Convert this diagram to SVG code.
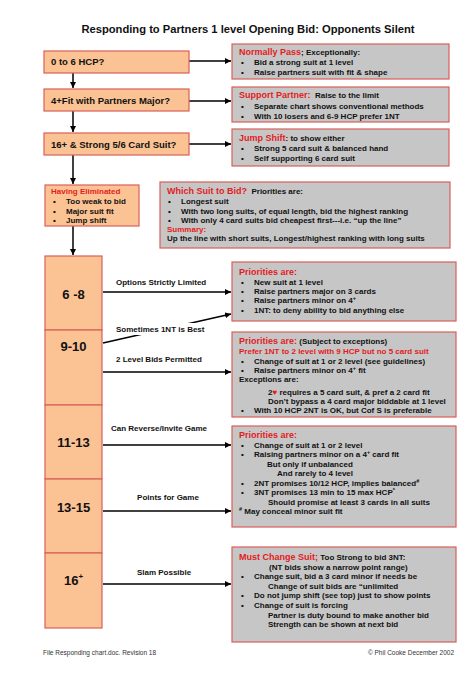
<svg xmlns="http://www.w3.org/2000/svg" width="474" height="674" viewBox="0 0 474 674">
<style>
text{font-family:"Liberation Sans",Arial,"DejaVu Sans",sans-serif;font-weight:bold;font-size:8px;fill:#111}
.r{fill:#e31b23}
.h{font-size:9px}
.sup{font-size:5.5px}
.big{font-size:13px;text-anchor:middle}
.q{font-size:9.5px}
.peach{fill:#fbc293;stroke:#d9605a;stroke-width:1.2}
.grey{fill:#c6c6c6;stroke:#d9605a;stroke-width:1.2}
.ln{stroke:#000;stroke-width:1.5;fill:none;marker-end:url(#ah)}
.foot{font-weight:normal;font-size:6.5px;fill:#333}
</style>
<defs>
<marker id="ah" markerUnits="userSpaceOnUse" markerWidth="7" markerHeight="6" refX="6" refY="3" orient="auto">
<path d="M0,0 L6,3 L0,6 z" fill="#000"/>
</marker>
</defs>
<rect width="474" height="674" fill="#fff"/>
<text x="248" y="33" text-anchor="middle" style="font-size:11.2px">Responding to Partners 1 level Opening Bid: Opponents Silent</text>

<g id="connectors">
<line class="ln" x1="189" y1="61" x2="231" y2="61"/>
<line class="ln" x1="189" y1="101" x2="231" y2="101"/>
<line class="ln" x1="189" y1="144" x2="231" y2="144"/>
<line class="ln" x1="73" y1="73" x2="73" y2="88"/>
<line class="ln" x1="73" y1="111" x2="73" y2="132"/>
<line class="ln" x1="73" y1="155" x2="73" y2="184"/>
<line class="ln" x1="73" y1="226" x2="73" y2="255"/>
<line class="ln" x1="103" y1="292" x2="231" y2="292"/>
<line class="ln" x1="103" y1="343" x2="231" y2="314"/>
<line class="ln" x1="103" y1="372" x2="231" y2="372"/>
<line class="ln" x1="103" y1="445" x2="231" y2="445"/>
<line class="ln" x1="103" y1="511" x2="231" y2="511"/>
<line class="ln" x1="103" y1="584" x2="231" y2="584"/>
<text x="116" y="285">Options Strictly Limited</text>
<rect x="114" y="323" width="84" height="12" fill="#fff"/>
<text x="116" y="332">Sometimes 1NT is Best</text>
<text x="116" y="362">2 Level Bids Permitted</text>
<text x="111" y="431">Can Reverse/Invite Game</text>
<text x="168" y="500" text-anchor="middle">Points for Game</text>
<text x="164" y="575" text-anchor="middle">Slam Possible</text>
</g>

<g id="q1"><rect class="peach" x="44" y="51" width="145" height="22"/><text class="q" x="51" y="65">0 to 6 HCP?</text></g>
<g id="q2"><rect class="peach" x="44" y="89" width="145" height="22"/><text class="q" x="51" y="103.5">4+Fit with Partners Major?</text></g>
<g id="q3"><rect class="peach" x="44" y="133" width="145" height="22"/><text class="q" x="51" y="147.5">16+ &amp; Strong 5/6 Card Suit?</text></g>

<g id="eliminated"><rect class="peach" x="45" y="185" width="94" height="41"/>
<text class="r" x="51" y="194">Having Eliminated</text>
<text x="53" y="204">•</text><text x="66" y="204">Too weak to bid</text>
<text x="53" y="213.5">•</text><text x="66" y="213.5">Major suit fit</text>
<text x="53" y="223">•</text><text x="66" y="223">Jump shift</text>
</g>

<g id="r68"><rect class="peach" x="45" y="256" width="57" height="74"/><text class="big" x="73.5" y="299">6 -8</text></g>
<g id="r910"><rect class="peach" x="45" y="330" width="57" height="75"/><text class="big" x="73.5" y="351">9-10</text></g>
<g id="r1113"><rect class="peach" x="45" y="405" width="57" height="74"/><text class="big" x="73.5" y="447">11-13</text></g>
<g id="r1315"><rect class="peach" x="45" y="479" width="57" height="74"/><text class="big" x="73.5" y="512">13-15</text></g>
<g id="r16"><rect class="peach" x="45" y="553" width="57" height="75"/><text class="big" x="73.5" y="585">16<tspan class="sup" style="font-size:8px" dy="-6">+</tspan></text></g>

<g id="pass"><rect class="grey" x="232" y="44" width="217" height="35"/>
<text x="239" y="55"><tspan class="r h">Normally Pass</tspan>; Exceptionally:</text>
<text x="241" y="65">•</text><text x="254" y="65">Bid a strong suit at 1 level</text>
<text x="241" y="75">•</text><text x="254" y="75">Raise partners suit with fit &amp; shape</text>
</g>

<g id="support"><rect class="grey" x="232" y="87" width="217" height="35"/>
<text x="239" y="98" xml:space="preserve"><tspan class="r h">Support Partner:</tspan>  Raise to the limit</text>
<text x="241" y="108.5">•</text><text x="254" y="108.5">Separate chart shows conventional methods</text>
<text x="241" y="119">•</text><text x="254" y="119">With 10 losers and 6-9 HCP prefer 1NT</text>
</g>

<g id="jump"><rect class="grey" x="232" y="129" width="217" height="37"/>
<text x="239" y="141"><tspan class="r h">Jump Shift</tspan>: to show either</text>
<text x="241" y="151">•</text><text x="254" y="151">Strong 5 card suit &amp; balanced hand</text>
<text x="241" y="160.5">•</text><text x="254" y="160.5">Self supporting 6 card suit</text>
</g>

<g id="whichsuit"><rect class="grey" x="160" y="182" width="290" height="66"/>
<text x="167" y="194" xml:space="preserve"><tspan class="r h">Which Suit to Bid?</tspan>  Priorities are:</text>
<text x="168" y="204">•</text><text x="181" y="204">Longest suit</text>
<text x="168" y="213.5">•</text><text x="181" y="213.5">With two long suits, of equal length, bid the highest ranking</text>
<text x="168" y="222.5">•</text><text x="181" y="222.5">With only 4 card suits bid cheapest first---i.e. “up the line”</text>
<text class="r" x="167" y="231.5">Summary:</text>
<text x="167" y="241">Up the line with short suits, Longest/highest ranking with long suits</text>
</g>

<g id="p68"><rect class="grey" x="232" y="262" width="224" height="59"/>
<text class="r h" x="239" y="275">Priorities are:</text>
<text x="241" y="284.5">•</text><text x="254" y="284.5">New suit at 1 level</text>
<text x="241" y="294">•</text><text x="254" y="294">Raise partners major on 3 cards</text>
<text x="241" y="303">•</text><text x="254" y="303">Raise partners minor on 4<tspan class="sup" dy="-3">+</tspan></text>
<text x="241" y="312.5">•</text><text x="254" y="312.5">1NT: to deny ability to bid anything else</text>
</g>

<g id="p910"><rect class="grey" x="232" y="332" width="224" height="85"/>
<text x="239" y="344"><tspan class="r h">Priorities are:</tspan> (Subject to exceptions)</text>
<text class="r" x="239" y="354">Prefer 1NT to 2 level with 9 HCP but no 5 card suit</text>
<text x="241" y="364">•</text><text x="254" y="364">Change of suit at 1 or 2 level (see guidelines)</text>
<text x="241" y="373">•</text><text x="254" y="373">Raise partners minor on 4<tspan class="sup" dy="-3">+</tspan><tspan dy="3"> fit</tspan></text>
<text x="239" y="382">Exceptions are:</text>
<text x="268" y="395">2<tspan class="r">♥</tspan> requires a 5 card suit, &amp; pref a 2 card fit</text>
<text x="268" y="404">Don’t bypass a 4 card major biddable at 1 level</text>
<text x="241" y="413">•</text><text x="254" y="413">With 10 HCP 2NT is OK, but Cof S is preferable</text>
</g>

<g id="p1115"><rect class="grey" x="232" y="426" width="224" height="101"/>
<text class="r h" x="239" y="438">Priorities are:</text>
<text x="241" y="448">•</text><text x="254" y="448">Change of suit at 1 or 2 level</text>
<text x="241" y="457">•</text><text x="254" y="457">Raising partners minor on a 4<tspan class="sup" dy="-3">+</tspan><tspan dy="3"> card fit</tspan></text>
<text x="267" y="466.5">But only if unbalanced</text>
<text x="277" y="475.5">And rarely to 4 level</text>
<text x="241" y="485.5">•</text><text x="254" y="485.5">2NT promises 10/12 HCP, implies balanced<tspan class="sup" dy="-3">#</tspan></text>
<text x="241" y="495">•</text><text x="254" y="495">3NT promises 13 min to 15 max HCP<tspan class="sup" dy="-3">*</tspan></text>
<text x="268" y="504.5">Should promise at least 3 cards in all suits</text>
<text x="239" y="514"><tspan class="sup" dy="-3">#</tspan><tspan dy="3"> May conceal minor suit fit</tspan></text>
</g>

<g id="p16"><rect class="grey" x="232" y="547" width="224" height="95"/>
<text x="239" y="560"><tspan class="r h">Must Change Suit;</tspan> Too Strong to bid 3NT:</text>
<text x="269" y="569.5">(NT bids show a narrow point range)</text>
<text x="241" y="579">•</text><text x="254" y="579">Change suit, bid a 3 card minor if needs be</text>
<text x="268" y="588.5">Change of suit bids are “unlimited</text>
<text x="241" y="598">•</text><text x="254" y="598">Do not jump shift (see top) just to show points</text>
<text x="241" y="608">•</text><text x="254" y="608">Change of suit is forcing</text>
<text x="268" y="617.5">Partner is duty bound to make another bid</text>
<text x="268" y="627">Strength can be shown at next bid</text>
</g>

<text class="foot" x="43" y="655">File Responding chart.doc. Revision 18</text>
<text class="foot" x="454" y="655" text-anchor="end">© Phil Cooke December 2002</text>
</svg>
